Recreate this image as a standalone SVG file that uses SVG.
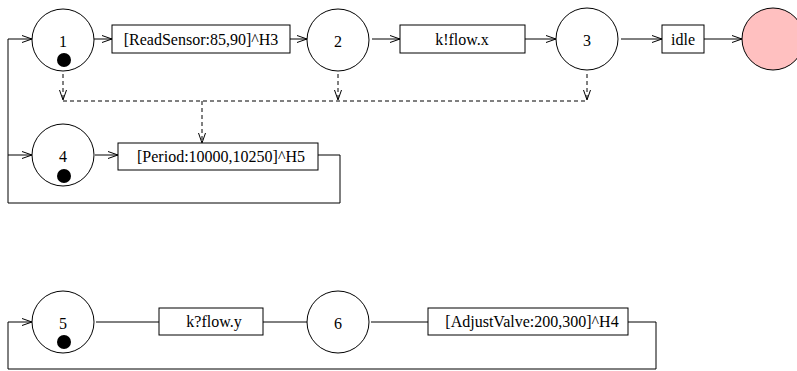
<svg xmlns="http://www.w3.org/2000/svg" width="797" height="371" viewBox="0 0 797 371">
<defs>
<marker id="arr" markerUnits="userSpaceOnUse" markerWidth="12" markerHeight="10" refX="11" refY="4" orient="auto">
<path d="M1,0.5 L11,4 L1,7.5" fill="none" stroke="#000" stroke-width="1"/>
</marker>
</defs>
<style>
.st{fill:#fff;stroke:#000;stroke-width:1}
.bx{fill:#fff;stroke:#000;stroke-width:1}
.ln{fill:none;stroke:#000;stroke-width:1}
.ds{fill:none;stroke:#000;stroke-width:1;stroke-dasharray:4,3}
.dot{fill:#000}
.t{font-family:"Liberation Serif","Times New Roman",serif;font-size:16px;fill:#000;text-anchor:middle}
</style>
<rect width="797" height="371" fill="#fff"/>
<g id="connectors">
<path class="ln" d="M94,39 L112,39" marker-end="url(#arr)"/>
<path class="ln" d="M290,39 L307,39" marker-end="url(#arr)"/>
<path class="ln" d="M372,39 L400,39" marker-end="url(#arr)"/>
<path class="ln" d="M525,39 L556,39" marker-end="url(#arr)"/>
<path class="ln" d="M621,39 L662,39" marker-end="url(#arr)"/>
<path class="ln" d="M704,39 L742,39" marker-end="url(#arr)"/>
<path class="ds" d="M63,74 L63,100" marker-end="url(#arr)"/>
<path class="ds" d="M338,74 L338,100" marker-end="url(#arr)"/>
<path class="ds" d="M587,74 L587,100" marker-end="url(#arr)"/>
<path class="ds" d="M63,101 L587,101"/>
<path class="ds" d="M202,101 L202,143" marker-end="url(#arr)"/>
<path class="ln" d="M95,155 L118,155" marker-end="url(#arr)"/>
<path class="ln" d="M318,155 L340,155 L340,203 L8,203 L8,39 L32,39" marker-end="url(#arr)"/>
<path class="ln" d="M8,155 L32,155" marker-end="url(#arr)"/>
<path class="ln" d="M96,322 L159,322"/>
<path class="ln" d="M263,322 L309,322"/>
<path class="ln" d="M371,322 L428,322"/>
<path class="ln" d="M628,322 L656,322 L656,369 L8,369 L8,322 L32,322" marker-end="url(#arr)"/>
</g>
<g id="n1"><circle class="st" cx="63" cy="40" r="31"/><text class="t" x="63" y="47">1</text><circle class="dot" cx="64" cy="60" r="7"/></g>
<g id="b1"><rect class="bx" x="112" y="25" width="178" height="28"/><text class="t" x="201" y="45">[ReadSensor:85,90]^H3</text></g>
<g id="n2"><circle class="st" cx="338" cy="40" r="31"/><text class="t" x="338" y="47">2</text></g>
<g id="b2"><rect class="bx" x="400" y="25" width="125" height="28"/><text class="t" x="462" y="45">k!flow.x</text></g>
<g id="n3"><circle class="st" cx="587" cy="39" r="31"/><text class="t" x="587" y="46">3</text></g>
<g id="b3"><rect class="bx" x="662" y="25" width="42" height="28"/><text class="t" x="683" y="45">idle</text></g>
<g id="nend"><circle cx="773" cy="39" r="31" fill="#ffc0c0" stroke="#000" stroke-width="1"/></g>
<g id="n4"><circle class="st" cx="63" cy="155" r="31"/><text class="t" x="63" y="162">4</text><circle class="dot" cx="64" cy="176" r="7"/></g>
<g id="b4"><rect class="bx" x="118" y="143" width="200" height="27"/><text class="t" x="221" y="162">[Period:10000,10250]^H5</text></g>
<g id="n5"><circle class="st" cx="63" cy="322" r="31"/><text class="t" x="63" y="329">5</text><circle class="dot" cx="64" cy="342" r="7"/></g>
<g id="b5"><rect class="bx" x="159" y="308" width="104" height="27"/><text class="t" x="214" y="327">k?flow.y</text></g>
<g id="n6"><circle class="st" cx="338" cy="322" r="31"/><text class="t" x="338" y="329">6</text></g>
<g id="b6"><rect class="bx" x="428" y="308" width="200" height="27"/><text class="t" x="532" y="327">[AdjustValve:200,300]^H4</text></g>
</svg>
